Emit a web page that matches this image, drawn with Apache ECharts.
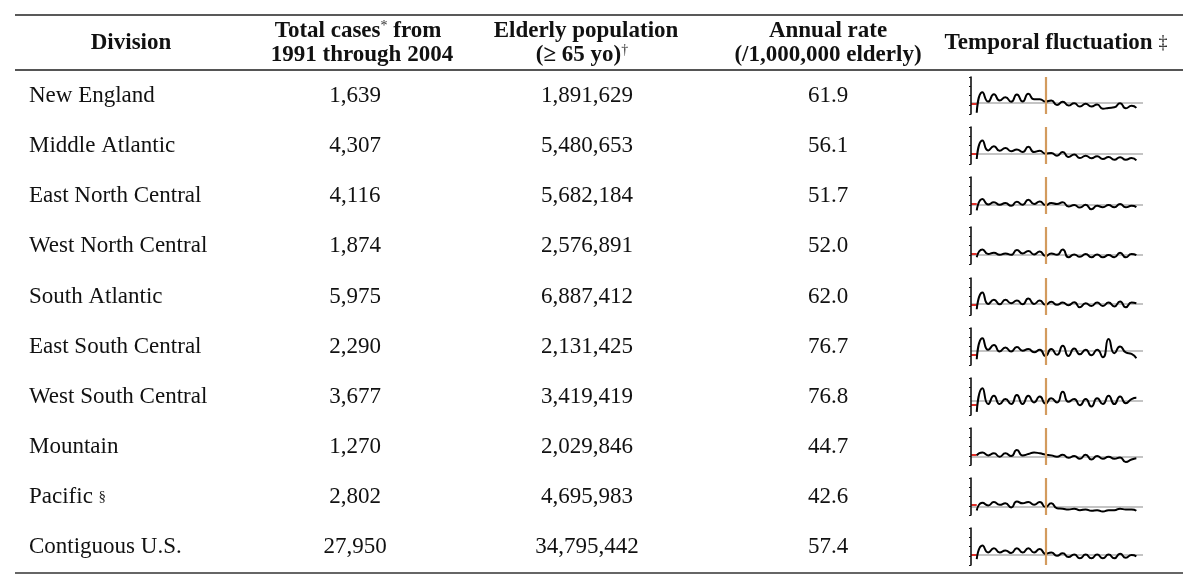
<!DOCTYPE html>
<html><head><meta charset="utf-8">
<script src="https://cdn.jsdelivr.net/npm/echarts/dist/echarts.min.js"></script>
<style>html,body{margin:0;padding:0;background:#fff}#c{width:1200px;height:588px}</style>
</head><body><div id="c"></div>
<script>
// ---- table data ----
const divisions = ['New England','Middle Atlantic','East North Central','West North Central','South Atlantic','East South Central','West South Central','Mountain','Pacific','Contiguous U.S.'];
const divisionNotes = ['','','','','','','','','§',''];
const totalCases = [1639, 4307, 4116, 1874, 5975, 2290, 3677, 1270, 2802, 27950];
const elderlyPop = [1891629, 5480653, 5682184, 2576891, 6887412, 2131425, 3419419, 2029846, 4695983, 34795442];
const annualRate = [61.9, 56.1, 51.7, 52.0, 62.0, 76.7, 76.8, 44.7, 42.6, 57.4];
const nationalRate = 57.4;
const breakYear = 1997;

// ---- sparkline samples (half-year steps, annual rate per 1,000,000 elderly) ----
const sampleTimes = [1991,1991.5,1992,1992.5,1993,1993.5,1994,1994.5,1995,1995.5,1996,1996.5,1997,1997.5,1998,1998.5,1999,1999.5,2000,2000.5,2001,2001.5,2002,2002.5,2003,2003.5,2004,2004.5,2004.92];
const sparkNewEngland      = [7,117,67,107,73,91,66,106,67,109,80,80,67,73,49,66,46,58,40,55,40,51,29,33,36,58,31,44,33];
const sparkMiddleAtlantic  = [27,127,73,96,71,87,69,78,65,93,65,71,56,60,45,65,38,51,32,45,31,42,27,38,23,36,23,32,20];
const sparkEastNorthCentral= [19,81,52,63,50,59,44,66,50,77,54,68,48,59,54,63,41,48,35,50,26,44,37,48,37,54,37,44,37];
const sparkWestNorthCentral= [36,79,54,61,50,57,50,76,57,70,52,68,43,57,50,79,36,52,39,54,36,52,36,48,36,61,36,54,48];
const sparkSouthAtlantic   = [31,122,60,82,58,82,64,78,58,89,60,78,55,71,55,67,53,69,42,64,49,67,49,67,46,73,42,67,64];
const sparkEastSouthCentral= [31,144,82,108,73,95,73,97,77,86,69,82,49,86,55,104,49,89,58,82,53,82,42,140,64,100,68,60,37];
const sparkWestSouthCentral= [17,144,59,104,59,86,59,108,59,104,68,100,62,90,68,126,71,86,53,86,46,90,59,104,59,100,64,86,93];
const sparkMountain        = [52,67,52,63,45,63,48,81,52,59,67,63,56,52,45,56,39,48,34,56,30,48,34,45,34,41,16,30,37];
const sparkPacific         = [24,66,52,70,55,63,41,73,63,70,55,70,43,63,37,34,30,34,26,30,23,26,19,26,26,34,30,30,23];
const sparkContiguousUS    = [32,105,68,90,68,79,65,90,68,90,68,87,61,68,50,63,43,57,36,57,36,57,36,57,36,61,39,54,47];
const sparks = [sparkNewEngland,sparkMiddleAtlantic,sparkEastNorthCentral,sparkWestNorthCentral,sparkSouthAtlantic,sparkEastSouthCentral,sparkWestSouthCentral,sparkMountain,sparkPacific,sparkContiguousUS];

// ---- layout ----
const FONT = '"Liberation Serif", "Times New Roman", serif';
const rowY = [96,146,196,246,297,347,397,447,497,547];
const colCases = 355, colPop = 587, colRate = 828;
const sparkLeft = 971, sparkWidth = 172, xMin = 1990.5, xMax = 2005.5;

const graphic = [];
function txt(x, y, text, opts) {
  opts = opts || {};
  graphic.push({type:'text', x:x, y:y, silent:true, style:Object.assign({
    text:text, textAlign:opts.align||'center', textVerticalAlign:'middle',
    font:(opts.bold?'bold ':'')+(opts.size||23)+'px '+FONT, fill:'#111'
  }, opts.rich?{rich:opts.rich}:{})});
}
function rule(x1,y1,x2,y2,w,c){
  graphic.push({type:'line', silent:true, shape:{x1,y1,x2,y2}, style:{stroke:c||'#111', lineWidth:w||1.5}});
}
const supBold = {s:{font:'14px '+FONT, fill:'#333', verticalAlign:'top', padding:[0,0,6,0]}};
rule(15,15,1183,15,1.5,'#222');
rule(15,70,1183,70,2.2,'#555');
rule(15,573,1183,573,1.5,'#333');

txt(131,43,'Division',{bold:true});
txt(358,31,'Total cases{s|*} from',{bold:true, rich:supBold});
txt(362,55,'1991 through 2004',{bold:true});
txt(586,31,'Elderly population',{bold:true});
txt(582,55,'(≥ 65 yo){s|†}',{bold:true, rich:supBold});
txt(828,31,'Annual rate',{bold:true});
txt(828,55,'(/1,000,000 elderly)',{bold:true});
txt(1056,43,'Temporal fluctuation {t|‡}',{bold:true, rich:{t:{font:'18px '+FONT, fill:'#222'}}});

divisions.forEach((d,i)=>{
  const note = divisionNotes[i] ? ' {n|'+divisionNotes[i]+'}' : '';
  txt(29,rowY[i], d+note, {align:'left', rich:{n:{font:'15px '+FONT, fill:'#222'}}});
  txt(colCases,rowY[i], totalCases[i].toLocaleString('en-US'));
  txt(colPop,rowY[i], elderlyPop[i].toLocaleString('en-US'));
  txt(colRate,rowY[i], annualRate[i].toFixed(1));
});

const grids=[], xAxes=[], yAxes=[], series=[];
sparks.forEach((s,i)=>{
  grids.push({left:sparkLeft, width:sparkWidth, top:rowY[i]-19, height:37, containLabel:false});
  xAxes.push({type:'value', gridIndex:i, min:xMin, max:xMax, show:false});
  yAxes.push({type:'value', gridIndex:i, min:0, max:200, interval:50, z:6,
    axisLine:{show:true, lineStyle:{color:'#111', width:1.6}},
    axisTick:{show:true, length:2, lineStyle:{color:'#111', width:1}},
    axisLabel:{show:false}, splitLine:{show:false}});
  // reference levels drawn beneath the curve
  series.push({type:'line', xAxisIndex:i, yAxisIndex:i, data:[], silent:true, z:1,
    markLine:{silent:true, symbol:'none', z:1, label:{show:false}, animation:false,
      data:[
        {yAxis:annualRate[i], lineStyle:{color:'#c4c4c4', width:1.8, type:'solid'}},
        [{coord:[xMin, nationalRate], lineStyle:{color:'#e0302a', width:2, type:'solid'}},{coord:[1991, nationalRate]}]
      ]}});
  series.push({type:'line', xAxisIndex:i, yAxisIndex:i, z:3, silent:true,
    data: sampleTimes.map((t,k)=>[t, s[k]]),
    smooth:0.6, symbol:'none', animation:false,
    lineStyle:{color:'#000', width:2},
    markLine:{silent:true, symbol:'none', z:5, label:{show:false}, animation:false,
      data:[{xAxis:breakYear, lineStyle:{color:'#d39b5e', width:2.2, type:'solid'}}]}});
});

const chart = echarts.init(document.getElementById('c'), null, {renderer:'canvas'});
chart.setOption({animation:false, backgroundColor:'#fff', grid:grids, xAxis:xAxes, yAxis:yAxes, series:series, graphic:graphic});
</script></body></html>
